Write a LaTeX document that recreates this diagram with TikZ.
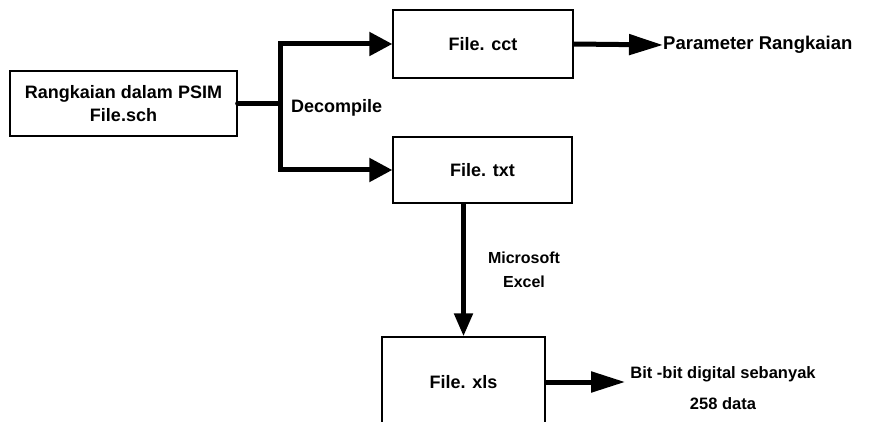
\documentclass[tikz,border=0pt]{standalone}
\usepackage{fontspec}
\setmainfont{Liberation Sans}
\usetikzlibrary{arrows.meta}
\begin{document}
\begin{tikzpicture}[x=1pt,y=-1pt,
  box/.style={draw,line width=1.3pt,inner sep=0pt,align=center},
  lbl/.style={inner sep=0pt,align=center,font=\bfseries\fontsize{18}{23}\selectfont},
  conn/.style={line width=5pt,line join=miter},
  arrA/.style={conn,-{Triangle[length=23pt,width=23pt]}},
  arrB/.style={conn,-{Triangle[length=34pt,width=20pt]}}]
\useasboundingbox (0,0) rectangle (879,422);
\clip (0,0) rectangle (879,422);
\fill[white] (0,0) rectangle (879,422);
\node[box,lbl,minimum width=227pt,minimum height=65pt] (L) at (123.5,103.5) {Rangkaian dalam PSIM\\File.sch};
\node[box,lbl,minimum width=180pt,minimum height=68pt] (cct) at (483,44) {File. cct};
\node[box,lbl,minimum width=179pt,minimum height=66pt] (txt) at (482.5,170) {File. txt};
\node[box,lbl,minimum width=163pt,minimum height=90pt] (xls) at (463.5,382) {File. xls};
\coordinate (j) at (280,103.5);
\node[lbl,anchor=west] (dec) at (291,108) {Decompile};
\node[lbl,anchor=west,font=\bfseries\fontsize{18.5}{23}\selectfont] (par) at (663,45) {Parameter Rangkaian};
\node[lbl,font=\bfseries\fontsize{16}{24}\selectfont] (ms) at (524,270) {Microsoft\\Excel};
\node[lbl,font=\bfseries\fontsize{16.5}{31}\selectfont] (bit) at (723,388) {Bit -bit digital sebanyak\\258 data};
\draw[conn,line cap=round] (L.east) -- (j);
\draw[conn,{Triangle[length=23pt,width=23pt]}-{Triangle[length=23pt,width=23pt]}] (cct.west) -| (j) |- (txt.west);
\draw[arrB] (cct.east) -- (par.west);
\draw[conn,-{Triangle[length=23pt,width=18pt]}] (xls.north |- txt.south) -- (xls.north);
\draw[arrB,shorten >=5pt] (xls.east) -- (bit.west |- xls.east);
\end{tikzpicture}
\end{document}
